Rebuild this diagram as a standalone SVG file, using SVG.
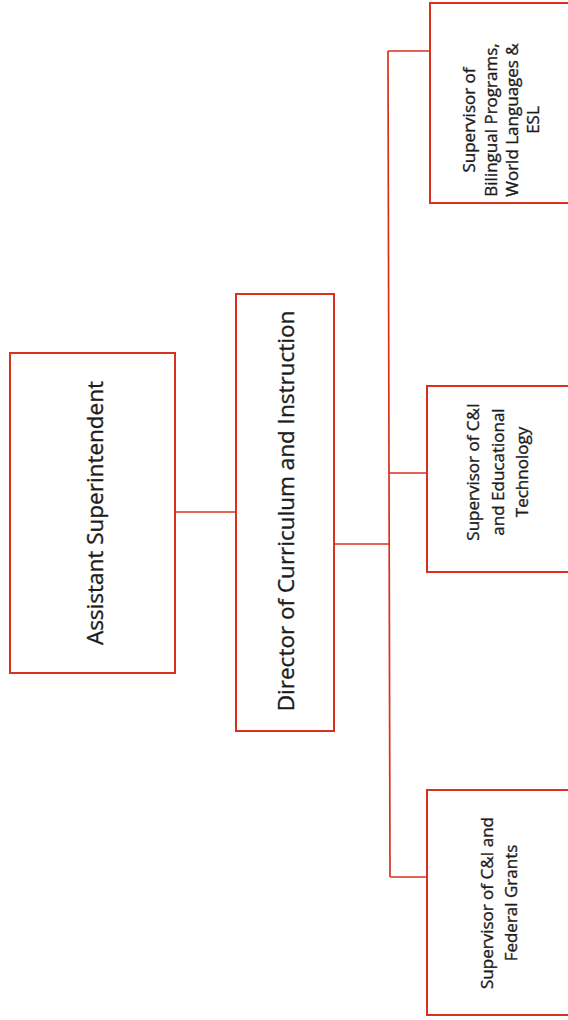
<svg xmlns="http://www.w3.org/2000/svg" width="568" height="1020" viewBox="0 0 568 1020">
<style>
.box{fill:#ffffff;stroke:#d8321f;stroke-width:2}
.conn{fill:none;stroke:#d8321f;stroke-width:1.7}
.t{font-family:"Open Sans","Noto Sans",sans-serif;fill:#1c1c1c;stroke:#1c1c1c;stroke-width:0.35;text-anchor:middle}
.big{font-size:22.5px}
.sm{font-size:17px}
</style>
<rect width="568" height="1020" fill="#ffffff"/>
<g id="connectors">
<path class="conn" d="M176 512 H236"/>
<path class="conn" d="M334 544 H389"/>
<path class="conn" d="M388 51 L390 877"/>
<path class="conn" d="M388 51 H430"/>
<path class="conn" d="M389 473 H427"/>
<path class="conn" d="M390 877 H427"/>
</g>
<g id="assistant-superintendent">
<rect class="box" x="10" y="353" width="165" height="320"/>
<g transform="translate(0,513) rotate(-90)"><text class="t big" x="0" y="103">Assistant Superintendent</text></g>
</g>
<g id="director">
<rect class="box" x="236" y="294" width="98" height="437"/>
<g transform="translate(0,511) rotate(-90)"><text class="t big" x="0" y="294">Director of Curriculum and Instruction</text></g>
</g>
<g id="sup-bilingual">
<rect class="box" x="430" y="3" width="150" height="200"/>
<g transform="translate(0,120) rotate(-90)"><text class="t sm" x="0" y="475">Supervisor of</text><text class="t sm" x="0" y="497">Bilingual Programs,</text><text class="t sm" x="0" y="518">World Languages &amp;</text><text class="t sm" x="0" y="539">ESL</text></g>
</g>
<g id="sup-edtech">
<rect class="box" x="427" y="386" width="150" height="186"/>
<g transform="translate(0,472) rotate(-90)"><text class="t sm" x="0" y="479">Supervisor of C&amp;I</text><text class="t sm" x="0" y="504">and Educational</text><text class="t sm" x="0" y="528">Technology</text></g>
</g>
<g id="sup-grants">
<rect class="box" x="427" y="790" width="150" height="225"/>
<g transform="translate(0,903) rotate(-90)"><text class="t sm" x="0" y="493">Supervisor of C&amp;I and</text><text class="t sm" x="0" y="517">Federal Grants</text></g>
</g>
</svg>
